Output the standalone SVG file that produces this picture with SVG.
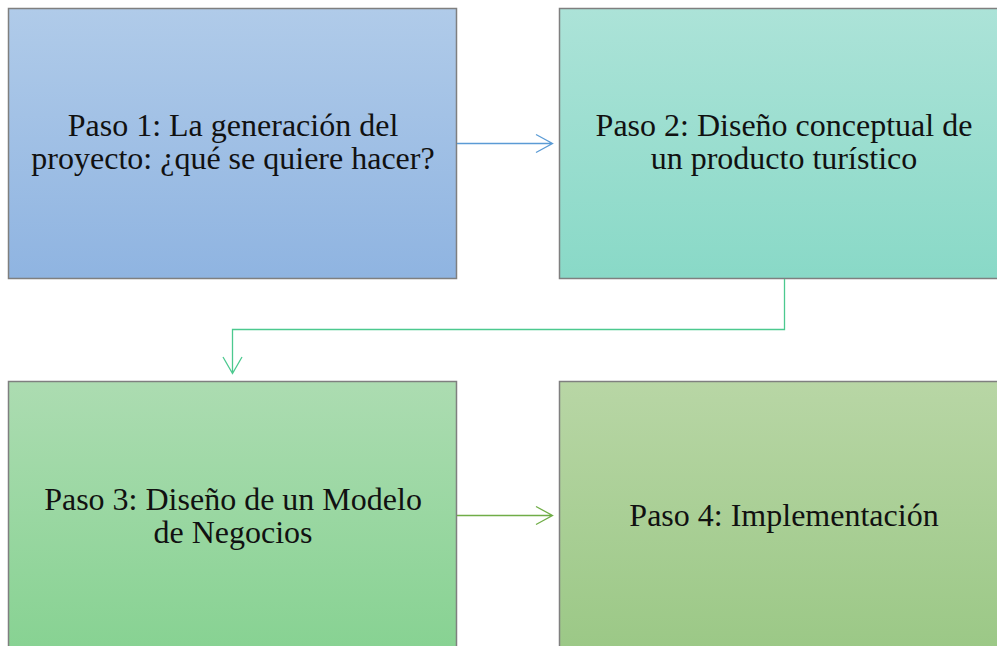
<svg xmlns="http://www.w3.org/2000/svg" width="997" height="646" viewBox="0 0 997 646">
<defs>
<linearGradient id="g1" x1="0" y1="0" x2="0" y2="1"><stop offset="0" stop-color="#b0cbe9"/><stop offset="1" stop-color="#8fb4e1"/></linearGradient>
<linearGradient id="g2" x1="0" y1="0" x2="0" y2="1"><stop offset="0" stop-color="#ace3d8"/><stop offset="1" stop-color="#89d9c7"/></linearGradient>
<linearGradient id="g3" x1="0" y1="0" x2="0" y2="1"><stop offset="0" stop-color="#acdcb1"/><stop offset="1" stop-color="#87d292"/></linearGradient>
<linearGradient id="g4" x1="0" y1="0" x2="0" y2="1"><stop offset="0" stop-color="#b8d6a5"/><stop offset="1" stop-color="#9bc886"/></linearGradient>
</defs>
<style>
.box{stroke:#7f7f7f;stroke-width:1.5}
.t{font-family:"Liberation Serif","Times New Roman",serif;font-size:32px;fill:#111111;text-anchor:middle}
.c{fill:none;stroke-width:1.3}
</style>
<rect width="997" height="646" fill="#ffffff"/>
<g id="node1"><rect class="box" x="8.5" y="8.5" width="448" height="270" fill="url(#g1)"/>
<text class="t" x="233" y="136">Paso 1: La generación del</text>
<text class="t" x="233" y="169">proyecto: ¿qué se quiere hacer?</text></g>
<g id="node2"><rect class="box" x="559.5" y="8.5" width="445" height="270" fill="url(#g2)"/>
<text class="t" x="784" y="136">Paso 2: Diseño conceptual de</text>
<text class="t" x="784" y="169">un producto turístico</text></g>
<g id="node3"><rect class="box" x="8.5" y="381.5" width="448" height="270" fill="url(#g3)"/>
<text class="t" x="233" y="510">Paso 3: Diseño de un Modelo</text>
<text class="t" x="233" y="543">de Negocios</text></g>
<g id="node4"><rect class="box" x="559.5" y="381.5" width="445" height="270" fill="url(#g4)"/>
<text class="t" x="784" y="526">Paso 4: Implementación</text></g>
<g id="connectors">
<path class="c" stroke="#5b9bd5" d="M457 143.5H552.5M536 134.5L552.5 143.5L536 152.5"/>
<path class="c" stroke="#4cc98f" d="M784.5 279V329.5H232.5V373.5M223 357L232.5 373.5L242 357"/>
<path class="c" stroke="#70ad47" d="M457 515.5H552.5M536 506.5L552.5 515.5L536 524.5"/>
</g>
</svg>
